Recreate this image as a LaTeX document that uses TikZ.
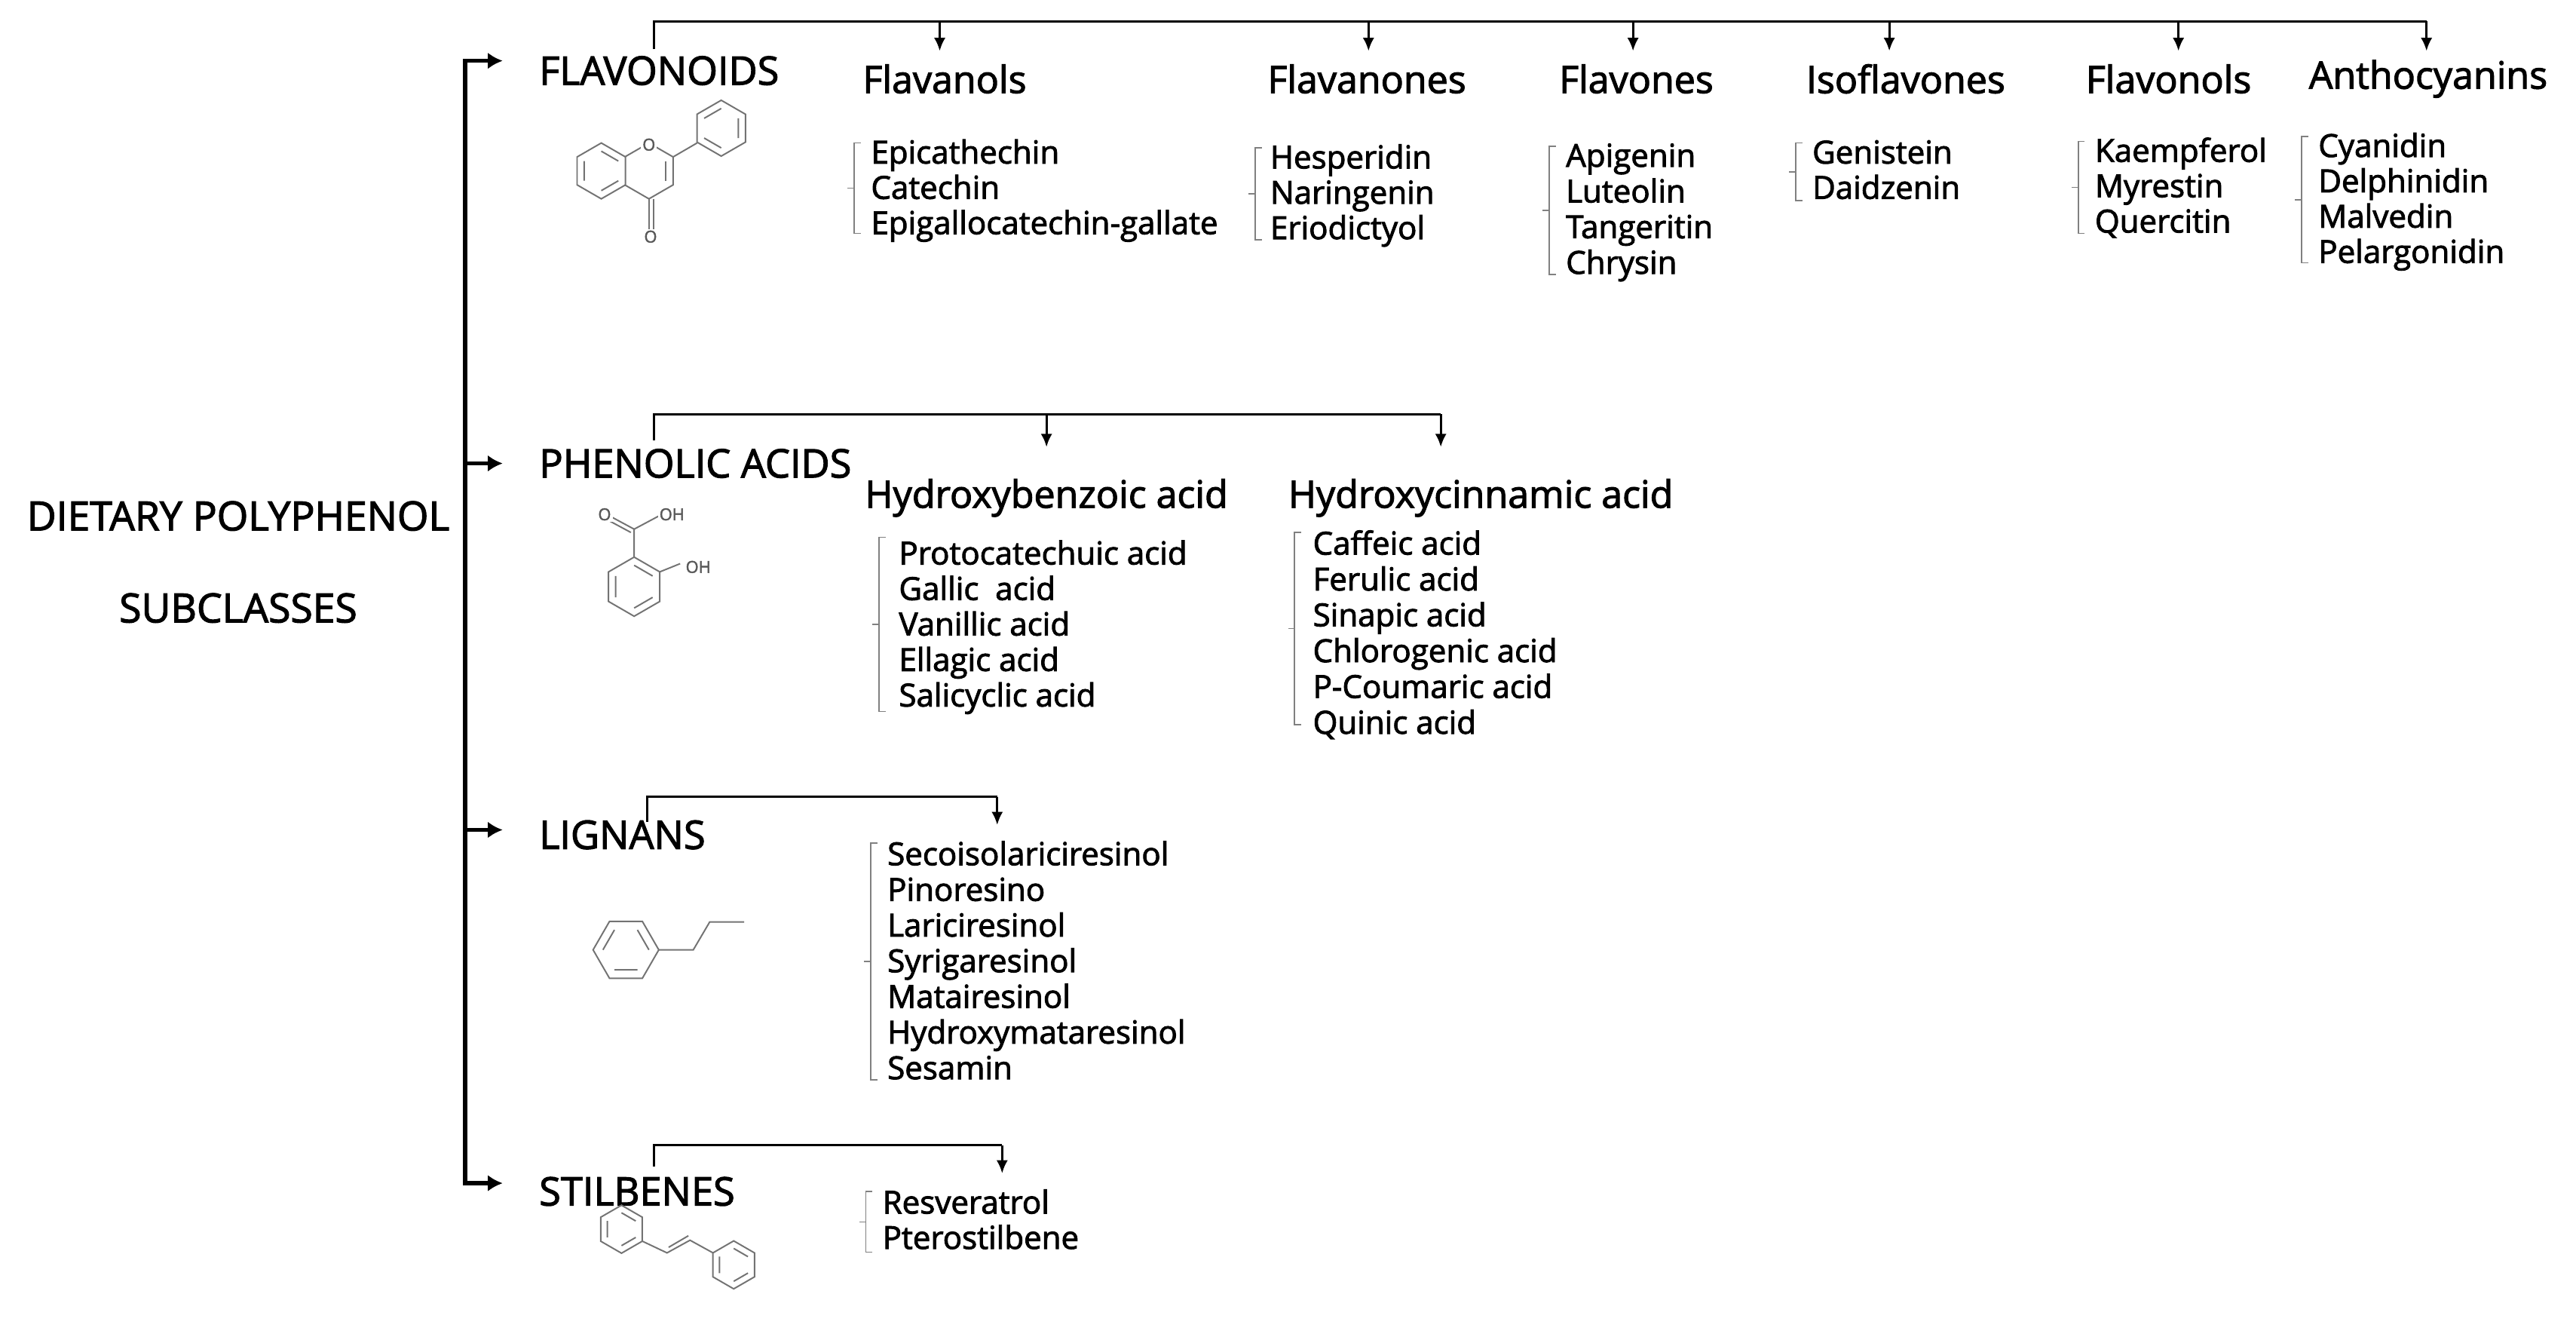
\documentclass[tikz,border=0pt]{standalone}
\usepackage{fontspec}
\setmainfont{Open Sans}[FakeBold=2.2]
\usetikzlibrary{arrows.meta}
\begin{document}
\begin{tikzpicture}[x=1pt,y=-1pt,
  main/.style={font=\fontsize{24.5}{28}\selectfont,inner sep=0pt},
  cat/.style={font=\fontsize{24}{28}\selectfont,anchor=west,inner sep=0pt},
  sub/.style={font=\fontsize{23}{27}\selectfont,inner sep=0pt},
  item/.style={font=\fontsize{19.3}{22}\selectfont,anchor=west,inner sep=0pt,text height=14pt,text depth=5pt,yshift=-2pt},
  trunk/.style={line width=2.6pt,black},
  bigarr/.style={trunk,-{Latex[length=9,width=10]}},
  bar/.style={line width=1.4pt,black},
  darr/.style={bar,-{Latex[length=8,width=7]}},
  brk/.style={line width=0.7pt,gray},
  chem/.style={line width=0.9pt,gray!90!black},
  atom/.style={font=\fontsize{10}{12}\selectfont,text=gray!70!black,inner sep=1pt,fill=white}]
\useasboundingbox (0,0) rectangle (1568,815);
\newcommand{\itemlist}[4]{%
  \foreach \t [count=\i from 0] in {#4} {\node[item] at (#1,#2+\i*#3) {\t};}}
\newcommand{\mybrk}[3]{%
  \draw[brk] (#1+4,#2)--(#1,#2)--(#1,#3)--(#1+4,#3);
  \draw[brk] (#1,{(#2+#3)/2})--(#1-4,{(#2+#3)/2});}
\node[main] (dp) at (145,314) {DIETARY POLYPHENOL};
\node[main] (sc) at (145,370) {SUBCLASSES};
\coordinate (t0) at (283,37);
\coordinate (t3) at (283,720);
\node[cat] (fl) at (328,43) {FLAVONOIDS};
\node[cat] (ph) at (328,282) {PHENOLIC ACIDS};
\node[cat] (li) at (328,508) {LIGNANS};
\node[cat] (st) at (328,725) {STILBENES};
\draw[trunk] (t3)--(t0);
\draw[bigarr] ([xshift=-1.3pt]t0) -- (306,37);
\draw[bigarr] (283,282) -- (306,282);
\draw[bigarr] (283,505) -- (306,505);
\draw[bigarr] ([xshift=-1.3pt]t3) -- (306,720);
\node[sub] (f1) at (575,48) {Flavanols};
\node[sub] (f2) at (832,48) {Flavanones};
\node[sub] (f3) at (996,48) {Flavones};
\node[sub] (f4) at (1160,48) {Isoflavones};
\node[sub] (f5) at (1320,48) {Flavonols};
\node[sub] (f6) at (1478,48) {Anthocyanins};
\coordinate (fa) at (398,13); \coordinate (fb) at (1477,13);
\draw[bar] (398,30)--(fa)--(fb);
\foreach \x in {572,833,994,1150,1326,1477}
  \draw[darr] (\x,13)--(\x,31);
\itemlist{530}{93}{21.5}{Epicathechin,Catechin,Epigallocatechin-gallate}
\mybrk{520}{87}{142}
\itemlist{773}{96}{21.5}{Hesperidin,Naringenin,Eriodictyol}
\mybrk{764}{90}{146}
\itemlist{953}{95}{21.7}{Apigenin,Luteolin,Tangeritin,Chrysin}
\mybrk{943}{89}{167}
\itemlist{1103}{93}{21.5}{Genistein,Daidzenin}
\mybrk{1093}{87}{122}
\itemlist{1275}{92}{21.5}{Kaempferol,Myrestin,Quercitin}
\mybrk{1265}{86}{142}
\itemlist{1411}{89}{21.5}{Cyanidin,Delphinidin,Malvedin,Pelargonidin}
\mybrk{1401}{83}{160}
\node[sub] (p1) at (637,303) {Hydroxybenzoic acid};
\node[sub,anchor=west] (p2) at (784,303) {Hydroxycinnamic acid};
\draw[bar] (398,268)--(398,252)--(877,252);
\draw[darr] (637,252)--(637,272);
\draw[darr] (877,252)--(877,272);
\itemlist{547}{337}{21.6}{Protocatechuic acid,Gallic\ \ acid,Vanillic acid,Ellagic acid,Salicyclic acid}
\mybrk{535}{327}{433}
\itemlist{799}{331}{21.8}{Caffeic acid,Ferulic acid,Sinapic acid,Chlorogenic acid,P-Coumaric acid,Quinic acid}
\mybrk{788}{324}{441}
\draw[bar] (394,500)--(394,485)--(607,485);
\draw[darr] (607,485)--(607,502);
\itemlist{540}{520}{21.7}{Secoisolariciresinol,Pinoresino,Lariciresinol,Syrigaresinol,Matairesinol,Hydroxymataresinol,Sesamin}
\mybrk{530}{513}{657}
\draw[bar] (398,710)--(398,697)--(610,697);
\draw[darr] (610,697)--(610,714);
\itemlist{537}{732}{21.5}{Resveratrol,Pterostilbene}
\mybrk{527}{725}{762}
% flavone
\begin{scope}[chem]
 \def\r{17}
 \draw (366,104)+(90:\r)--+(30:\r)--+(-30:\r)--+(-90:\r)--+(-150:\r)--+(150:\r)--cycle;
 \draw (366,104)+(150:12)--+(-150:12) (366,104)+(30:12)--+(90:12) (366,104)+(-30:12)--+(-90:12);
 \draw (395,104)+(150:\r)--+(90:\r)--+(30:\r)--+(-30:\r)--+(-90:\r)--+(-150:\r);
 \draw (395,104)+(30:12)--+(-30:12);
 \draw (395,121)--(395,140) (398,121)--(398,140);
 \node[atom] at (395,88) {O};
 \node[atom] at (396,144) {O};
 \draw (409.7,95.5)--(424.3,87);
 \draw (439,78)+(-150:\r)--+(-90:\r)--+(-30:\r)--+(30:\r)--+(90:\r)--+(150:\r)--cycle;
 \draw (439,78)+(150:12)--+(90:12) (439,78)+(30:12)--+(-30:12) (439,78)+(-90:12)--+(-150:12);
\end{scope}
% salicylic acid
\begin{scope}[chem]
 \def\r{18}
 \draw (386,357)+(90:\r)--+(30:\r)--+(-30:\r)--+(-90:\r)--+(-150:\r)--+(150:\r)--cycle;
 \draw (386,357)+(150:13)--+(-150:13) (386,357)+(-30:13)--+(-90:13) (386,357)+(90:13)--+(30:13);
 \draw (386,339)--(386,322)--(401,314);
 \draw (386,322)--(373,315) (384,324)--(371,317);
 \node[atom] at (368,313) {O};
 \node[atom] at (409,313) {OH};
 \draw (401.6,348)--(414,343);
 \node[atom] at (425,345) {OH};
\end{scope}
% propylbenzene
\begin{scope}[chem]
 \def\r{20}
 \draw (381,578)+(0:\r)--+(60:\r)--+(120:\r)--+(180:\r)--+(240:\r)--+(300:\r)--cycle;
 \draw (381,578)+(60:14)--+(120:14) (381,578)+(180:14)--+(240:14) (381,578)+(300:14)--+(0:14);
 \draw (401,578)--(422,578)--(432,561)--(453,561);
\end{scope}
% stilbene
\begin{scope}[chem]
 \def\r{14.6}
 \draw (378.3,748)+(90:\r)--+(30:\r)--+(-30:\r)--+(-90:\r)--+(-150:\r)--+(150:\r)--cycle;
 \draw (378.3,748)+(150:10)--+(-150:10) (378.3,748)+(-30:10)--+(-90:10) (378.3,748)+(90:10)--+(30:10);
 \draw (391,755.3)--(406,762.4)--(420,754.7)--(434,762.4);
 \draw (407,759)--(419,752);
 \draw (446.6,769.7)+(90:\r)--+(30:\r)--+(-30:\r)--+(-90:\r)--+(-150:\r)--+(150:\r)--cycle;
 \draw (446.6,769.7)+(90:10)--+(30:10) (446.6,769.7)+(-30:10)--+(-90:10) (446.6,769.7)+(150:10)--+(-150:10);
\end{scope}
\end{tikzpicture}
\end{document}
